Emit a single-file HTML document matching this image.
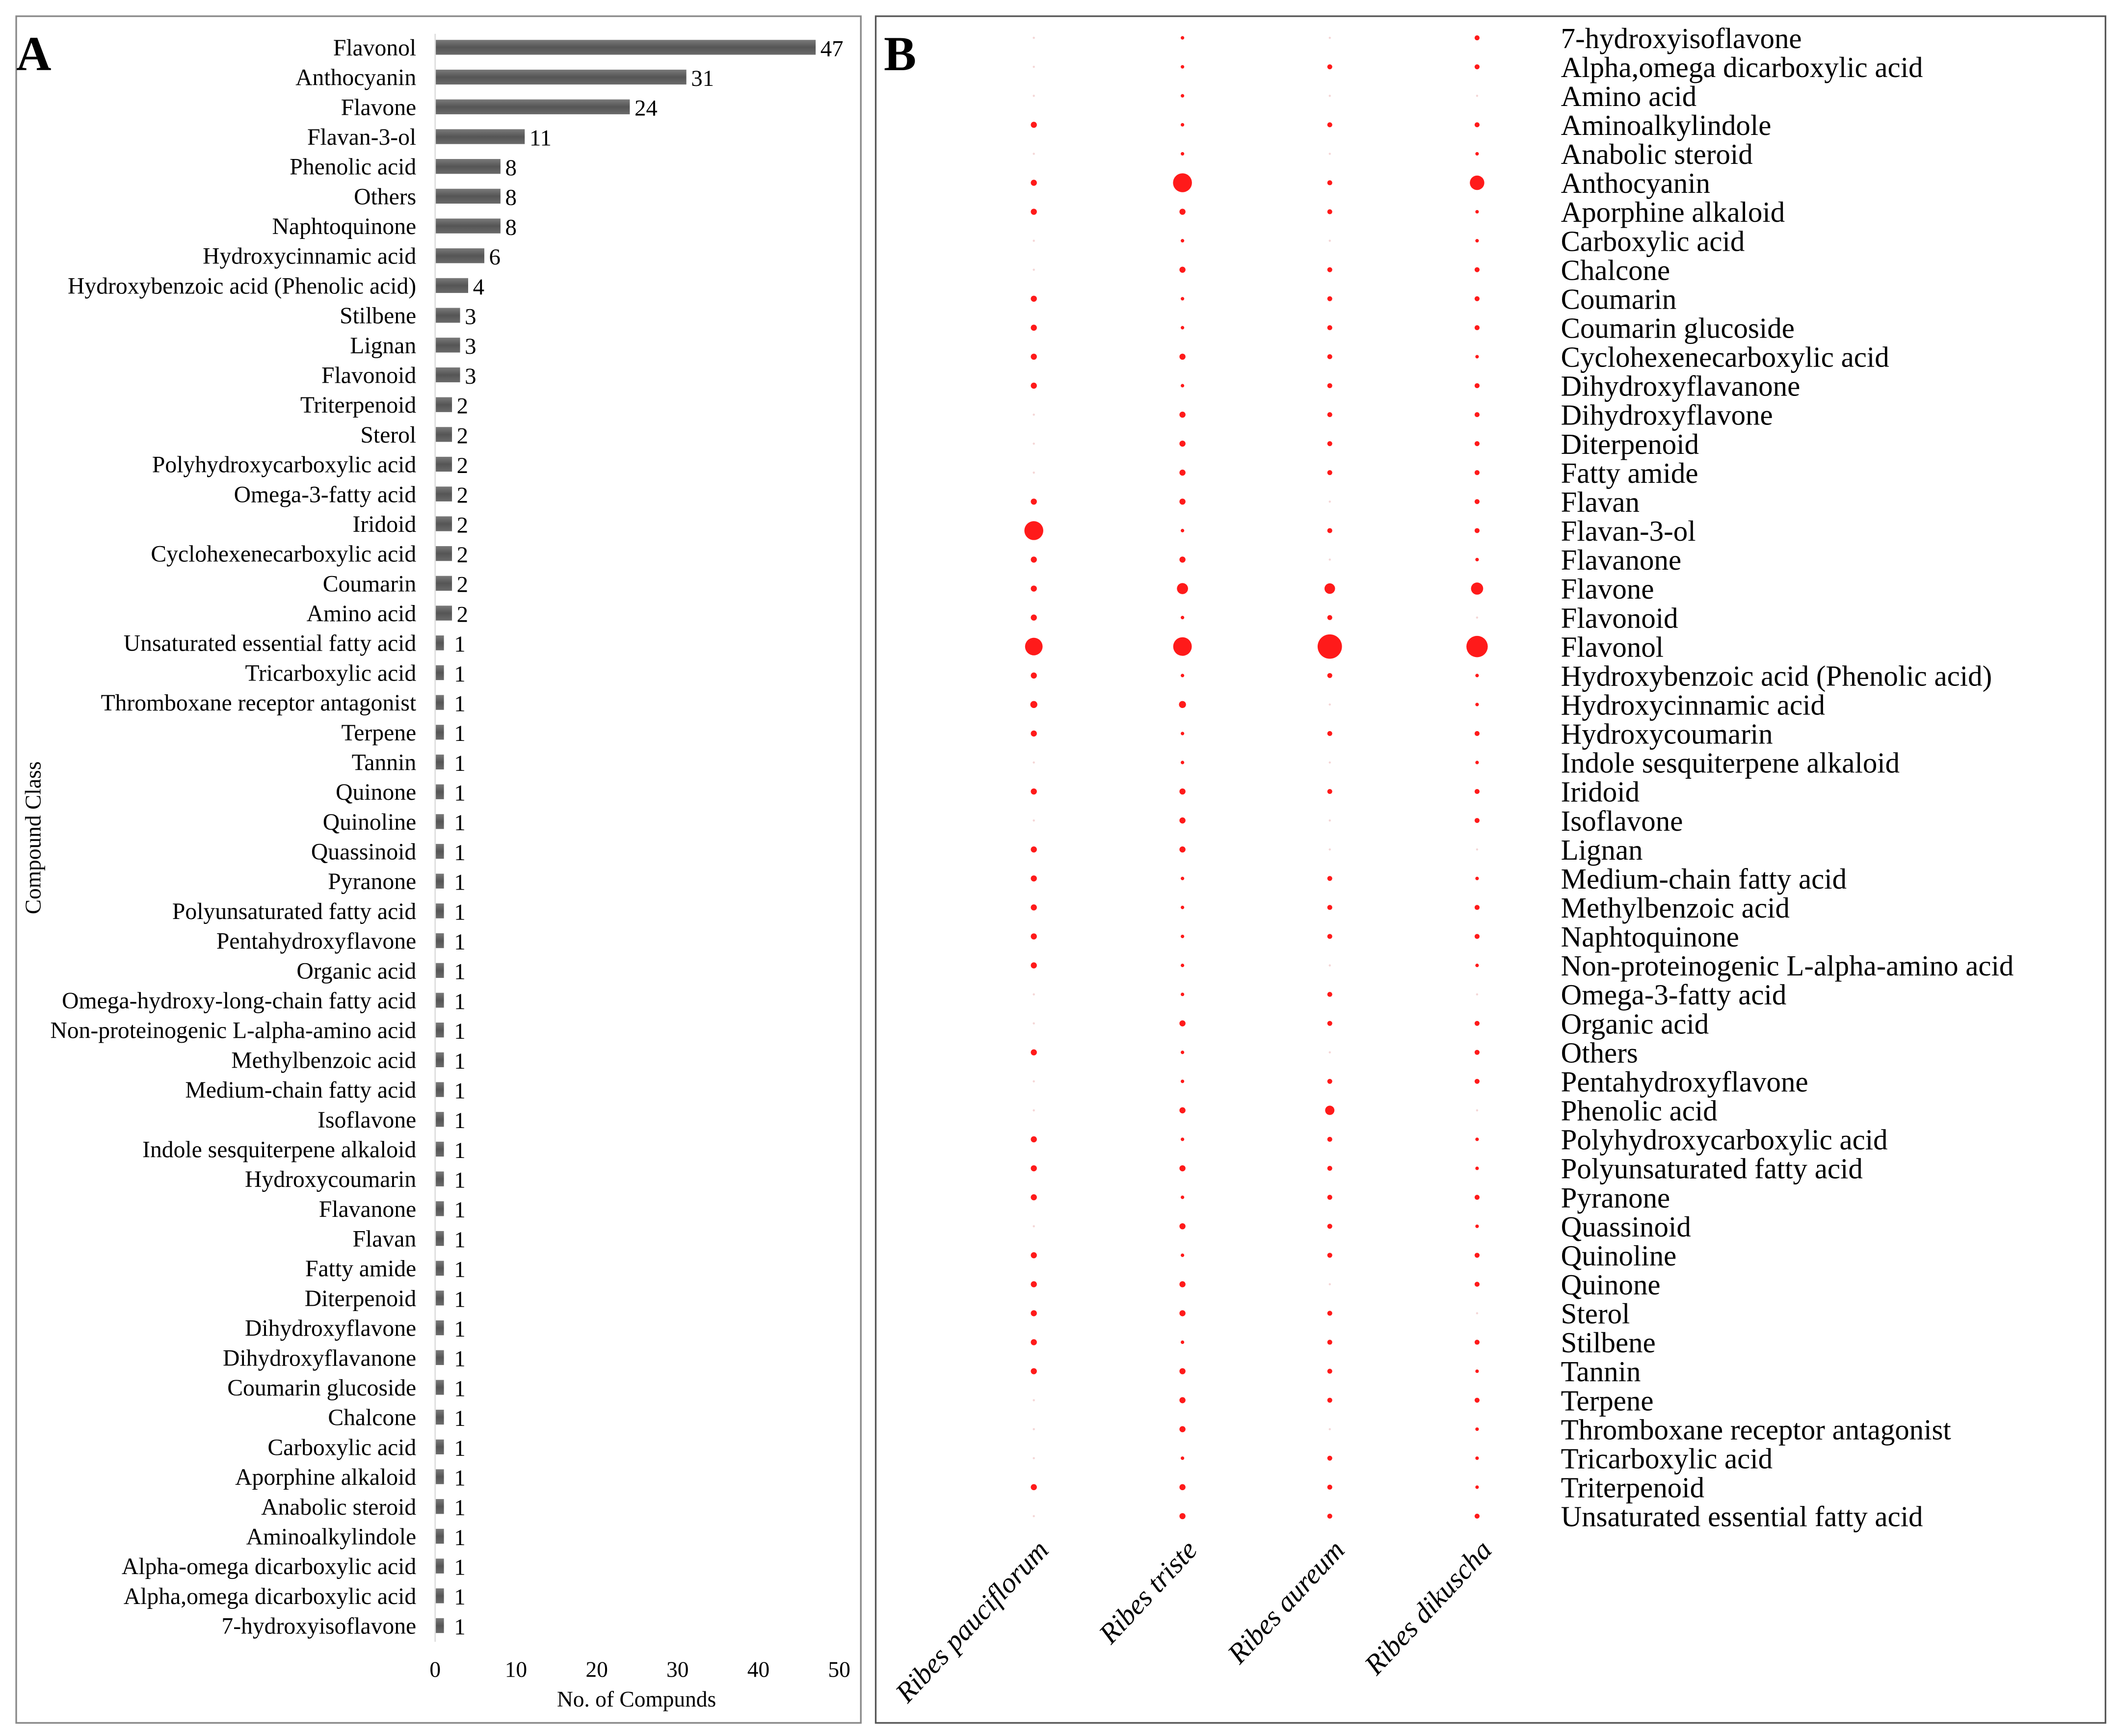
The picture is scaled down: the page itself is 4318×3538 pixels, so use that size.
<!DOCTYPE html>
<html><head><meta charset="utf-8"><style>
html,body{margin:0;padding:0;background:#fff;}
svg{display:block;}
text{font-family:"Liberation Serif",serif;}
</style></head>
<body>
<svg id="fig" width="4318" height="3538" viewBox="0 0 1568 1284.7" preserveAspectRatio="none" xmlns="http://www.w3.org/2000/svg">
<defs><linearGradient id="bg" x1="0" y1="0" x2="0" y2="1"><stop offset="0" stop-color="#7a7a7a"/><stop offset="0.5" stop-color="#555"/><stop offset="1" stop-color="#6a6a6a"/></linearGradient></defs>
<rect x="0" y="0" width="1568" height="1285" fill="#fff"/>
<rect x="12" y="12" width="625" height="1263" fill="none" stroke="#888" stroke-width="1.2"/>
<rect x="648" y="12" width="910" height="1263" fill="none" stroke="#555" stroke-width="1.2"/>
<text x="12" y="52" font-size="36" font-weight="bold">A</text>
<text x="654" y="52" font-size="36" font-weight="bold">B</text>
<g id="barChart"></g>
<g id="dotChart"></g>
</svg>
<script>
const barCategories = ["Flavonol","Anthocyanin","Flavone","Flavan-3-ol","Phenolic acid","Others","Naphtoquinone","Hydroxycinnamic acid","Hydroxybenzoic acid (Phenolic acid)","Stilbene","Lignan","Flavonoid","Triterpenoid","Sterol","Polyhydroxycarboxylic acid","Omega-3-fatty acid","Iridoid","Cyclohexenecarboxylic acid","Coumarin","Amino acid","Unsaturated essential fatty acid","Tricarboxylic acid","Thromboxane receptor antagonist","Terpene","Tannin","Quinone","Quinoline","Quassinoid","Pyranone","Polyunsaturated fatty acid ","Pentahydroxyflavone","Organic acid","Omega-hydroxy-long-chain fatty acid","Non-proteinogenic L-alpha-amino acid","Methylbenzoic acid","Medium-chain fatty acid","Isoflavone","Indole sesquiterpene alkaloid","Hydroxycoumarin","Flavanone","Flavan","Fatty amide","Diterpenoid","Dihydroxyflavone","Dihydroxyflavanone","Coumarin glucoside","Chalcone","Carboxylic acid","Aporphine alkaloid","Anabolic steroid","Aminoalkylindole","Alpha-omega dicarboxylic acid","Alpha,omega dicarboxylic acid","7-hydroxyisoflavone"];
const barValues = [47,31,24,11,8,8,8,6,4,3,3,3,2,2,2,2,2,2,2,2,1,1,1,1,1,1,1,1,1,1,1,1,1,1,1,1,1,1,1,1,1,1,1,1,1,1,1,1,1,1,1,1,1,1];
const xTicks = [0,10,20,30,40,50];

const dotCategories = ["7-hydroxyisoflavone","Alpha,omega dicarboxylic acid","Amino acid","Aminoalkylindole","Anabolic steroid","Anthocyanin","Aporphine alkaloid","Carboxylic acid","Chalcone","Coumarin","Coumarin glucoside","Cyclohexenecarboxylic acid","Dihydroxyflavanone","Dihydroxyflavone","Diterpenoid","Fatty amide","Flavan","Flavan-3-ol","Flavanone","Flavone","Flavonoid","Flavonol","Hydroxybenzoic acid (Phenolic acid)","Hydroxycinnamic acid","Hydroxycoumarin","Indole sesquiterpene alkaloid","Iridoid","Isoflavone","Lignan","Medium-chain fatty acid","Methylbenzoic acid","Naphtoquinone","Non-proteinogenic L-alpha-amino acid","Omega-3-fatty acid","Organic acid","Others","Pentahydroxyflavone","Phenolic acid","Polyhydroxycarboxylic acid","Polyunsaturated fatty acid","Pyranone","Quassinoid","Quinoline","Quinone","Sterol","Stilbene","Tannin","Terpene","Thromboxane receptor antagonist","Tricarboxylic acid","Triterpenoid","Unsaturated essential fatty acid"];
const species = ["Ribes pauciflorum","Ribes triste","Ribes aureum","Ribes dikuscha"];
const pauciflorum = [0,0,0,3,0,3,3,0,0,3,3,3,3,0,0,0,3,29,3,3,3,25,3,4,3,0,3,0,3,3,3,3,3,0,0,3,0,0,3,3,3,0,3,3,3,3,3,0,0,0,3,0];
const triste      = [1,1,1,1,1,29,3,1,3,1,1,3,1,3,3,3,3,1,3,10,1,28,1,4,1,1,3,3,3,1,1,1,1,1,3,1,1,3,1,3,1,3,1,3,3,1,3,3,3,1,3,3];
const aureum      = [0,2,0,2,0,2,2,0,2,2,2,2,2,2,2,2,0,2,0,9,2,48,2,0,2,0,2,0,0,2,2,2,0,2,2,0,2,7,2,2,2,2,2,0,2,2,2,2,0,2,2,2];
const dikuscha    = [2,2,0,2,1,17,1,1,2,2,2,1,2,2,2,2,2,2,1,12,0,37,1,1,2,1,2,2,0,1,2,2,1,0,2,2,2,0,1,1,2,1,2,2,0,2,1,2,1,1,1,2];

const NS = "http://www.w3.org/2000/svg";
function mk(tag, attrs, parent, txt){const e=document.createElementNS(NS,tag);for(const k in attrs)e.setAttribute(k,attrs[k]);if(txt!==undefined)e.textContent=txt;parent.appendChild(e);return e;}

// ---- Bar chart ----
const bc = document.getElementById('barChart');
const bx0 = 322, bx1 = 621, bMax = 50;
const xs = v => bx0 + (bx1 - bx0) * v / bMax;
const by0 = 35, by1 = 1203;
const ys = i => by0 + (by1 - by0) * i / (barCategories.length - 1);
let ax = mk('line',{x1:bx0,y1:25,x2:bx0,y2:1215,stroke:'#ddd','stroke-width':1},bc);


barCategories.forEach((c,i)=>{
  const y = ys(i);
  const t = mk('text',{x:308,y:y+6,'font-size':17.3,'text-anchor':'end'},bc,c);
  
  
  const r = mk('rect',{x:bx0+0.5,y:y-5.5,width:Math.max(xs(barValues[i])-bx0,3),height:11,fill:'url(#bg)'},bc);
  
  
  const vt = mk('text',{x:xs(barValues[i])+(barValues[i]<2?8:4),y:y+6.5,'font-size':17},bc,String(barValues[i]));
  
  
});
xTicks.forEach(v=>{
  const t = mk('text',{x:xs(v),y:1241,'font-size':16.5,'text-anchor':'middle'},bc,String(v));
  
  
});
let xt = mk('text',{x:471,y:1263,'font-size':16.5,'text-anchor':'middle'},bc,'No. of Compunds');


let yt = mk('text',{x:0,y:0,'font-size':16.5,'text-anchor':'middle',transform:'translate(30,620) rotate(-90)'},bc,'Compound Class');



// ---- Dot chart ----
const dc = document.getElementById('dotChart');
const colX = [765,875,984,1093];
const dy0 = 28, dy1 = 1122;
const dys = i => dy0 + (dy1 - dy0) * i / (dotCategories.length - 1);
const rs = v => 1.3 * Math.sqrt(v);
const seriesAll = [pauciflorum, triste, aureum, dikuscha];
dotCategories.forEach((c,i)=>{
  const y = dys(i);
  const t = mk('text',{x:1155,y:y+7.5,'font-size':21.4},dc,c);
  
  
  seriesAll.forEach((s,j)=>{
    const v = s[i];
    const d = mk('circle',{cx:colX[j],cy:y,r:v>0?rs(v):0.8,fill:v>0?'#ff1a1a':'#f4d6d6'},dc);
    
    
  });
});
species.forEach((s,j)=>{
  const t = mk('text',{x:0,y:0,'font-size':21,'font-style':'italic','text-anchor':'end',transform:`translate(${colX[j]+12},${1148}) rotate(-47)`},dc,s);
  
  
});
</script>
</body></html>
